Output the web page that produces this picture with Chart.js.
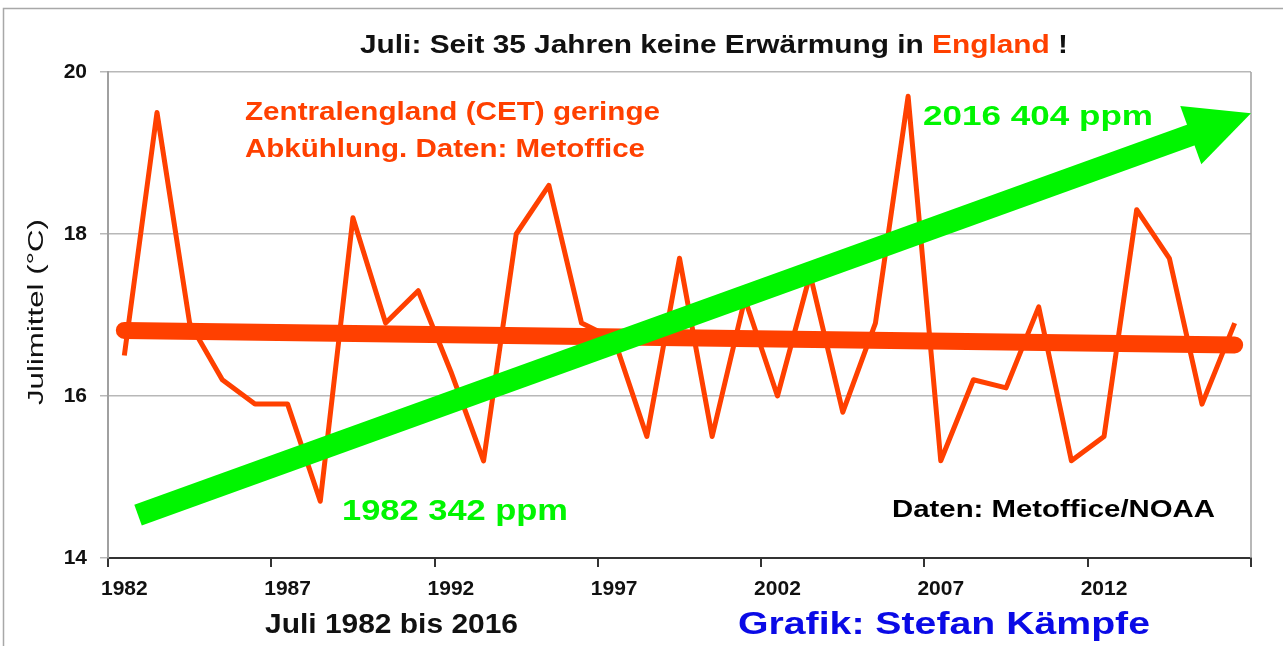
<!DOCTYPE html>
<html>
<head>
<meta charset="utf-8">
<script src="https://cdn.jsdelivr.net/npm/chart.js@4"></script>
<style>
  html, body { margin: 0; padding: 0; background: #fff; }
  #wrap { width: 1283px; height: 646px; }
</style>
</head>
<body>
<div id="wrap"><canvas id="julyChart" width="1283" height="646"></canvas></div>
<script>
// Juli-Mittel Zentralengland (CET), 1982 - 2016
var years = [];
for (var y = 1982; y <= 2016; y++) years.push(String(y));

var julyTemps = [
	16.5, 19.5, 16.9, 16.2, 15.9, 15.9, 14.7, 18.2, 16.9, 17.3,
	16.3, 15.2, 18.0, 18.6, 16.9, 16.7, 15.5, 17.7, 15.5, 17.2,
	16.0, 17.5, 15.8, 16.9, 19.7, 15.2, 16.2, 16.1, 17.1, 15.2,
	15.5, 18.3, 17.7, 15.9, 16.9
];

// linear trend, only the two ends
var trendStart = 16.81;
var trendEnd = 16.63;

var yTicks = [14, 16, 18, 20];

var FONT = "'Liberation Sans', Arial, sans-serif";
var ORANGE = '#ff4000';
var GREEN = '#00f500';

var trendData = years.map(function (yr, i) {
	if (i === 0) return trendStart;
	if (i === years.length - 1) return trendEnd;
	return null;
});

// CO2 arrow, in axis coordinates (category index, temperature)
var arrow = { from: [0.42, 14.53], to: [34.5, 19.49], width: 22, headLen: 64, headHalf: 31 };

function fitText(ctx, text, x, base, font, color, width) {
	ctx.save();
	ctx.font = font;
	var w = ctx.measureText(text).width;
	ctx.translate(x, base);
	ctx.scale(width / w, 1);
	ctx.fillStyle = color;
	ctx.textAlign = 'left';
	ctx.textBaseline = 'alphabetic';
	ctx.fillText(text, 0, 0);
	ctx.restore();
}

var decorPlugin = {
	id: 'decor',
	beforeDraw: function (chart) {
		var ctx = chart.ctx;
		ctx.save();
		ctx.fillStyle = '#fff';
		ctx.fillRect(0, 0, chart.width, chart.height);
		ctx.strokeStyle = '#a8a8a8';
		ctx.lineWidth = 1.5;
		ctx.beginPath();
		ctx.moveTo(3.5, chart.height);
		ctx.lineTo(3.5, 8.5);
		ctx.lineTo(chart.width, 8.5);
		ctx.stroke();
		ctx.restore();
	},
	afterDatasetsDraw: function (chart) {
		var ctx = chart.ctx;
		var xs = chart.scales.x, ys = chart.scales.y;
		var area = chart.chartArea;

		// right border of the plot area
		ctx.save();
		ctx.strokeStyle = '#a0a0a0';
		ctx.lineWidth = 1.5;
		ctx.beginPath();
		ctx.moveTo(area.right, area.top);
		ctx.lineTo(area.right, area.bottom);
		ctx.stroke();
		ctx.restore();

		// green CO2 arrow
		var x0 = xs.getPixelForValue(arrow.from[0]), y0 = ys.getPixelForValue(arrow.from[1]);
		var x1 = xs.getPixelForValue(arrow.to[0]), y1 = ys.getPixelForValue(arrow.to[1]);
		var ang = Math.atan2(y1 - y0, x1 - x0);
		var bx = x1 - Math.cos(ang) * arrow.headLen, by = y1 - Math.sin(ang) * arrow.headLen;
		var nx = -Math.sin(ang), ny = Math.cos(ang);
		ctx.save();
		ctx.strokeStyle = GREEN;
		ctx.fillStyle = GREEN;
		ctx.lineWidth = arrow.width;
		ctx.lineCap = 'butt';
		ctx.beginPath();
		ctx.moveTo(x0, y0);
		ctx.lineTo(bx + Math.cos(ang) * 2, by + Math.sin(ang) * 2);
		ctx.stroke();
		ctx.beginPath();
		ctx.moveTo(x1, y1);
		ctx.lineTo(bx + nx * arrow.headHalf, by + ny * arrow.headHalf);
		ctx.lineTo(bx - nx * arrow.headHalf, by - ny * arrow.headHalf);
		ctx.closePath();
		ctx.fill();
		ctx.restore();
	},
	afterDraw: function (chart) {
		var ctx = chart.ctx;

		// title, two colours
		var parts = [['Juli: Seit 35 Jahren keine Erwärmung in ', '#111'], ['England', ORANGE], [' !', '#111']];
		ctx.save();
		ctx.font = 'bold 25px ' + FONT;
		var total = 0;
		parts.forEach(function (p) { total += ctx.measureText(p[0]).width; });
		var sx = 708 / total;
		ctx.translate(360, 53);
		ctx.scale(sx, 1);
		var cx = 0;
		parts.forEach(function (p) {
			ctx.fillStyle = p[1];
			ctx.fillText(p[0], cx, 0);
			cx += ctx.measureText(p[0]).width;
		});
		ctx.restore();

		fitText(ctx, 'Zentralengland (CET) geringe', 245, 120, 'bold 25px ' + FONT, ORANGE, 415);
		fitText(ctx, 'Abkühlung. Daten: Metoffice', 245, 157, 'bold 25px ' + FONT, ORANGE, 400);
		fitText(ctx, '2016 404 ppm', 923, 125, 'bold 28px ' + FONT, GREEN, 230);
		fitText(ctx, '1982 342 ppm', 342, 520, 'bold 29px ' + FONT, GREEN, 226);
		fitText(ctx, 'Daten: Metoffice/NOAA', 892, 517, 'bold 24px ' + FONT, '#000', 323);
		fitText(ctx, 'Juli 1982 bis 2016', 265, 633, 'bold 27px ' + FONT, '#111', 253);
		fitText(ctx, 'Grafik: Stefan Kämpfe', 738, 634, 'bold 31px ' + FONT, '#0a0ae6', 412);

		// y axis title
		ctx.save();
		ctx.translate(43, 312);
		ctx.rotate(-Math.PI / 2);
		ctx.font = '22px ' + FONT;
		var tw = ctx.measureText('Julimittel (°C)').width;
		ctx.scale(186 / tw, 1);
		ctx.fillStyle = '#111';
		ctx.textAlign = 'center';
		ctx.fillText('Julimittel (°C)', 0, 0);
		ctx.restore();
	}
};

var chart = new Chart(document.getElementById('julyChart'), {
	type: 'line',
	data: {
		labels: years,
		datasets: [{
			label: 'Trend',
			data: trendData,
			spanGaps: true,
			borderColor: ORANGE,
			borderWidth: 17,
			borderCapStyle: 'round',
			pointRadius: 0,
			tension: 0
		}, {
			label: 'CET Juli',
			data: julyTemps,
			borderColor: ORANGE,
			borderWidth: 5,
			borderJoinStyle: 'round',
			pointRadius: 0,
			tension: 0
		}]
	},
	options: {
		responsive: false,
		animation: false,
		events: [],
		layout: { padding: { left: 0, top: 72, right: 32, bottom: 0 } },
		plugins: {
			legend: { display: false },
			title: { display: false },
			tooltip: { enabled: false }
		},
		scales: {
			x: {
				type: 'category',
				offset: true,
				afterFit: function (scale) { scale.height = 88; },
				grid: {
					offset: true,
					drawOnChartArea: false,
					tickLength: 9,
					lineWidth: 2,
					color: function (c) {
						return (c.type !== 'tick' || c.index % 5 === 0) ? '#333' : 'rgba(0,0,0,0)';
					}
				},
				border: { color: '#333', width: 2 },
				ticks: {
					autoSkip: false,
					maxRotation: 0,
					padding: 10,
					color: '#111',
					font: { family: FONT, size: 21, weight: 'bold' },
					callback: function (v, i) { return i % 5 === 0 ? years[i] : ''; }
				}
			},
			y: {
				min: yTicks[0],
				max: yTicks[yTicks.length - 1],
				afterFit: function (scale) { scale.width = 108; },
				afterBuildTicks: function (scale) {
					scale.ticks = yTicks.map(function (v) { return { value: v }; });
				},
				grid: {
					color: '#b8b8b8',
					lineWidth: 1.5,
					tickLength: 8
				},
				border: { color: '#a0a0a0', width: 2 },
				ticks: {
					padding: 13,
					color: '#111',
					font: { family: FONT, size: 21, weight: 'bold' }
				}
			}
		}
	},
	plugins: [decorPlugin]
});
</script>
</body>
</html>
